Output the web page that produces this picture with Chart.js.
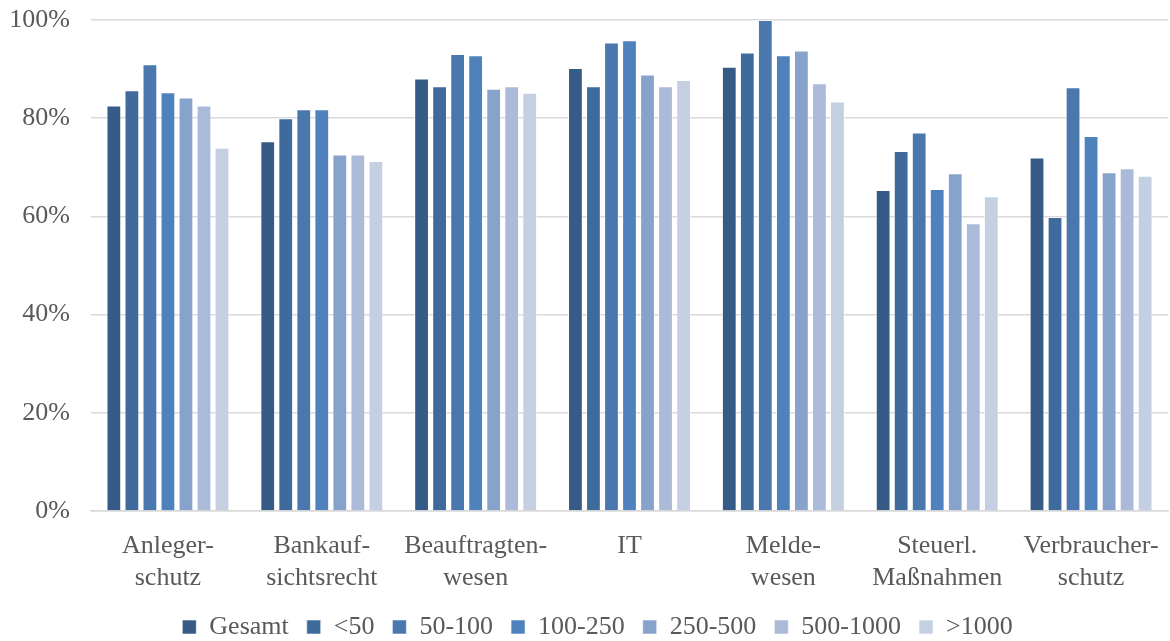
<!DOCTYPE html>
<html>
<head>
<meta charset="utf-8">
<script src="https://cdn.jsdelivr.net/npm/chart.js@4/dist/chart.umd.min.js"></script>
<style>
  html, body { margin: 0; padding: 0; background: #ffffff; overflow: hidden; }
  #wrap { width: 1170px; height: 641px; }
</style>
</head>
<body>
<div id="wrap"><canvas id="chart" width="1170" height="641"></canvas></div>
<script>
// Bereiche (Kategorien), zweizeilig beschriftet
const categories = [
  ['Anleger-', 'schutz'],
  ['Bankauf-', 'sichtsrecht'],
  ['Beauftragten-', 'wesen'],
  ['IT'],
  ['Melde-', 'wesen'],
  ['Steuerl.', 'Maßnahmen'],
  ['Verbraucher-', 'schutz']
];

// Größenklassen
const seriesNames = ['Gesamt', '<50', '50-100', '100-250', '250-500', '500-1000', '>1000'];

// Anteile in Prozent je Größenklasse
const gesamt        = [82.6, 75.3, 88.1, 90.2, 90.5, 65.4, 72.0];
const bis50         = [85.7, 80.0, 86.5, 86.5, 93.4, 73.3, 59.9];
const von50bis100   = [91.0, 81.8, 93.1, 95.4, 100.0, 77.1, 86.3];
const von100bis250  = [85.3, 81.8, 92.8, 95.9, 92.8, 65.6, 76.4];
const von250bis500  = [84.2, 72.6, 86.0, 88.9, 93.8, 68.8, 69.0];
const von500bis1000 = [82.6, 72.6, 86.5, 86.5, 87.1, 58.6, 69.8];
const ueber1000     = [74.0, 71.3, 85.2, 87.8, 83.4, 64.1, 68.3];

// Achsenbeschriftung
const yTicks = [0, 20, 40, 60, 80, 100];

const seriesValues = [gesamt, bis50, von50bis100, von100bis250, von250bis500, von500bis1000, ueber1000];
const seriesColors = ['#365b87', '#3e6a9c', '#4977ae', '#4f81bd', '#87a2cb', '#abbad8', '#c4d0e2'];

const FONT = '"Liberation Serif", "Times New Roman", serif';
const TEXT = '#595959';
const GRID = '#d9d9d9';

// Legende etwas nach rechts rücken
const legendShift = {
  id: 'legendShift',
  afterLayout(chart) {
    const lg = chart.legend;
    if (lg) { lg.left += 12; lg.right += 12; }
  }
};

new Chart(document.getElementById('chart'), {
  type: 'bar',
  data: {
    labels: categories,
    datasets: seriesNames.map((name, i) => ({
      label: name,
      data: seriesValues[i],
      backgroundColor: seriesColors[i],
      borderColor: 'rgba(255,255,255,0.55)',
      borderWidth: 1,
      categoryPercentage: 0.82,
      barPercentage: 0.82
    }))
  },
  plugins: [legendShift],
  options: {
    responsive: false,
    animation: false,
    devicePixelRatio: 1,
    layout: { padding: { top: 20, right: 2, left: 3, bottom: -9 } },
    plugins: {
      tooltip: { enabled: false },
      legend: {
        position: 'bottom',
        labels: {
          font: { family: FONT, size: 26 },
          color: TEXT,
          boxWidth: 14,
          boxHeight: 14,
          padding: 18
        }
      }
    },
    scales: {
      x: {
        grid: { display: true, drawOnChartArea: false, drawTicks: true, tickLength: 20, tickColor: 'rgba(0,0,0,0)' },
        border: { display: true, color: GRID, width: 1.5 },
        ticks: {
          font: { family: FONT, size: 26 },
          color: TEXT,
          padding: 0,
          maxRotation: 0,
          autoSkip: false
        },
        afterFit: (scale) => { scale.height = 85; }
      },
      y: {
        min: 0,
        max: 100,
        afterBuildTicks: (axis) => { axis.ticks = yTicks.map(v => ({ value: v })); },
        grid: { color: GRID, lineWidth: 1.5, drawTicks: true, tickLength: 21, tickColor: 'rgba(0,0,0,0)' },
        border: { display: false },
        ticks: {
          font: { family: FONT, size: 26 },
          color: TEXT,
          padding: 0,
          callback: (v) => v + '%'
        },
        afterFit: (scale) => { scale.width = 88; }
      }
    }
  }
});
</script>
</body>
</html>
